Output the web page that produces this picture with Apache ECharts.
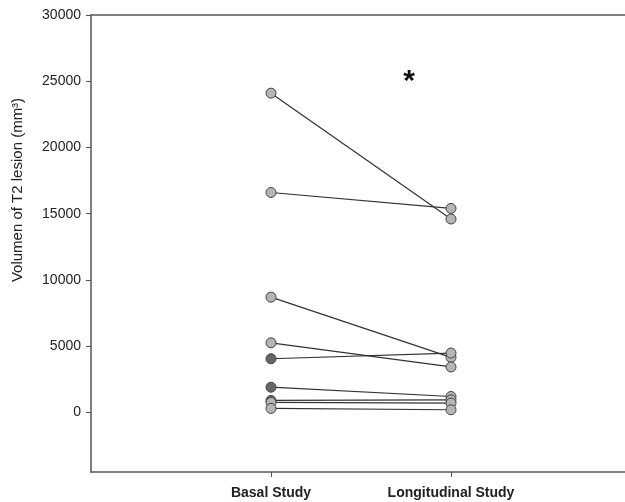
<!DOCTYPE html>
<html>
<head>
<meta charset="utf-8">
<script src="https://cdn.jsdelivr.net/npm/echarts@6/dist/echarts.min.js"></script>
<style>
    html, body {margin: 0; padding: 0; background: #fff;}
    #chart {width: 625px; height: 502px;}
</style>
</head>
<body>
<div id="chart"></div>
<script>
// 两次检查的 T2 病灶体积 (mm3)
const categories = ['Basal Study', 'Longitudinal Study'];
const basal = [24100, 16600, 8700, 5250, 4050, 1900, 900, 750, 300];
const longitudinal = [14600, 15400, 4150, 3430, 4480, 1200, 950, 700, 200];
const yTicks = [0, 5000, 10000, 15000, 20000, 25000, 30000];

// 基线检查中颜色较深的点
const darkBasal = [4, 5, 6];

const FONT = 'Liberation Sans, Arial, sans-serif';
const AXIS_COLOR = '#555';

const chart = echarts.init(document.getElementById('chart'));

const series = basal.map((b, i) => ({
    type: 'line',
    xAxisIndex: 0,
    symbol: 'circle',
    symbolSize: 10,
    z: 3,
    lineStyle: {color: '#333', width: 1.2},
    itemStyle: {borderColor: '#444', borderWidth: 1},
    data: [
        {value: [1, b], itemStyle: {color: darkBasal.includes(i) ? '#666' : '#b5b5b5'}},
        {value: [2, longitudinal[i]], itemStyle: {color: '#b5b5b5'}}
    ],
    animation: false
}));

chart.setOption({
    backgroundColor: '#fff',
    grid: {left: 91, right: -6, top: 15, bottom: 30, outerBoundsMode: 'none'},
    xAxis: [{
        type: 'value',
        min: 0,
        max: 3,
        position: 'bottom',
        splitLine: {show: false},
        axisLine: {onZero: false, lineStyle: {color: AXIS_COLOR, width: 1.5}},
        axisTick: {customValues: [1, 2], length: 5, lineStyle: {color: AXIS_COLOR}},
        axisLabel: {
            customValues: [1, 2],
            formatter: v => categories[Math.round(v) - 1] || '',
            margin: 14,
            color: '#222',
            fontFamily: FONT,
            fontSize: 14,
            fontWeight: 'bold'
        }
    }, {
        type: 'value',
        min: 0,
        max: 3,
        position: 'top',
        splitLine: {show: false},
        axisLine: {onZero: false, lineStyle: {color: AXIS_COLOR, width: 1.5}},
        axisTick: {show: false},
        axisLabel: {show: false}
    }],
    yAxis: {
        type: 'value',
        min: -4500,
        max: 30000,
        splitLine: {show: false},
        axisLine: {show: true, onZero: false, lineStyle: {color: AXIS_COLOR, width: 1.5}},
        axisTick: {show: true, customValues: yTicks, length: 5, lineStyle: {color: AXIS_COLOR}},
        axisLabel: {
            customValues: yTicks,
            formatter: v => String(v),
            margin: 10,
            color: '#222',
            fontFamily: FONT,
            fontSize: 14
        }
    },
    graphic: [{
        type: 'text',
        x: 18,
        y: 190,
        rotation: Math.PI / 2,
        style: {
            text: 'Volumen of T2 lesion (mm³)',
            font: '15px ' + FONT,
            fill: '#222',
            align: 'center',
            verticalAlign: 'middle'
        }
    }, {
        type: 'text',
        x: 409,
        y: 82,
        style: {
            text: '*',
            font: 'bold 30px ' + FONT,
            fill: '#111',
            align: 'center',
            verticalAlign: 'middle'
        }
    }],
    series: series
});
</script>
</body>
</html>
